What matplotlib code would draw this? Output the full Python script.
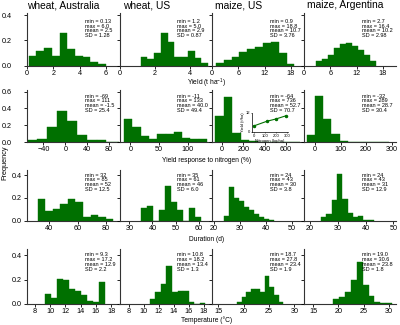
import matplotlib.pyplot as plt
import numpy as np

plt.rcParams['font.family'] = ['Liberation Sans', 'DejaVu Sans']
plt.rcParams['mathtext.fontset'] = 'custom'
plt.rcParams['mathtext.rm'] = 'Liberation Sans'
plt.rcParams['mathtext.it'] = 'Liberation Sans:italic'

titles = ['wheat, Australia', 'wheat, US', 'maize, US', 'maize, Argentina']
row_labels = [r'Yield (t ha$^{-1}$)', 'Yield response to nitrogen (%)',
              'Duration (d)', 'Temperature (\u00b0C)']

# min, max, mean, SD shown in each panel
yield_stats = [('0.13', '6.0', '2.5', '1.28'), ('1.2', '5.0', '2.9', '0.87'),
               ('0.9', '18.8', '10.7', '3.76'), ('2.7', '16.4', '10.2', '2.98')]
nresp_stats = [('-69', '111', '-1.5', '25.4'), ('-11', '133', '40.0', '49.4'),
               ('-64', '736', '52.7', '70.7'), ('-32', '289', '28.7', '30.4')]
duration_stats = [('32', '85', '52', '12.5'), ('35', '61', '46', '6.0'),
                  ('24', '43', '30', '3.8'), ('24', '43', '31', '12.9')]
temp_stats = [('9.3', '17.2', '12.9', '2.2'), ('10.8', '18.2', '13.4', '1.3'),
              ('18.7', '27.8', '23.4', '1.9'), ('19.0', '30.6', '23.8', '1.8')]

# relative frequency of the 10 bins between min and max
yield_freq = [
    [0.079, 0.116, 0.142, 0.079, 0.255, 0.134, 0.076, 0.071, 0.032, 0.010],
    [0.066, 0.053, 0.097, 0.255, 0.187, 0.066, 0.071, 0.116, 0.058, 0.024],
    [0.018, 0.045, 0.071, 0.105, 0.130, 0.150, 0.176, 0.190, 0.097, 0.013],
    [0.037, 0.053, 0.084, 0.142, 0.168, 0.182, 0.158, 0.124, 0.084, 0.037],
]
nresp_freq = [
    [0.020, 0.040, 0.180, 0.370, 0.250, 0.085, 0.020, 0.020, 0.005, 0.005],
    [0.270, 0.175, 0.070, 0.040, 0.100, 0.090, 0.120, 0.045, 0.035, 0.030],
    [0.310, 0.540, 0.110, 0.025, 0.008, 0.003, 0.000, 0.000, 0.000, 0.002],
    [0.083, 0.550, 0.270, 0.100, 0.008, 0.002, 0.000, 0.000, 0.000, 0.002],
]
duration_freq = [
    [0.188, 0.085, 0.106, 0.147, 0.188, 0.168, 0.030, 0.047, 0.030, 0.012],
    [0.109, 0.130, 0.000, 0.094, 0.306, 0.168, 0.094, 0.000, 0.109, 0.035],
    [0.040, 0.300, 0.200, 0.176, 0.120, 0.094, 0.060, 0.030, 0.012, 0.006],
    [0.030, 0.056, 0.180, 0.410, 0.188, 0.070, 0.030, 0.044, 0.006, 0.006],
]
temp_freq = [
    [0.080, 0.052, 0.203, 0.195, 0.123, 0.107, 0.074, 0.027, 0.014, 0.180],
    [0.040, 0.095, 0.165, 0.310, 0.095, 0.110, 0.110, 0.020, 0.000, 0.005],
    [0.020, 0.060, 0.095, 0.120, 0.120, 0.095, 0.230, 0.140, 0.075, 0.020],
    [0.038, 0.055, 0.100, 0.200, 0.340, 0.156, 0.066, 0.020, 0.010, 0.005],
]

# inset: yield vs nitrogen rate (maize, US)
inset_n = [0, 120, 200, 290]
inset_yield = [3.8, 6.8, 8.2, 10.2]

stats = [yield_stats, nresp_stats, duration_stats, temp_stats]
freqs = [yield_freq, nresp_freq, duration_freq, temp_freq]

xlims = [
    [(0, 7), (0, 5.2), (0, 21), (0, 21)],
    [(-70, 98), (-19, 141), (-95, 770), (-43, 317)],
    [(24.6, 89), (25.7, 65.6), (19.3, 54.6), (17.8, 51)],
    [(7, 19), (6.8, 19), (13.8, 31.9), (13.2, 31.4)],
]
xticks = [
    [[0, 2, 4, 6], [0, 2, 4], [0, 6, 12, 18], [0, 6, 12, 18]],
    [[-40, 0, 40, 80], [0, 50, 100], [0, 200, 400, 600], [0, 100, 200, 300]],
    [[40, 60, 80], [30, 40, 50, 60], [20, 30, 40, 50], [20, 30, 40, 50]],
    [[8, 10, 12, 14, 16, 18], [8, 10, 12, 14, 16, 18], [15, 20, 25, 30], [15, 20, 25, 30]],
]
ylims = [0.42, 0.62, 0.45, 0.45]
yticks = [[0, 0.2, 0.4], [0, 0.2, 0.4, 0.6], [0, 0.2, 0.4], [0, 0.2, 0.4]]

green = '#007000'
W, H = 400, 325
fig = plt.figure(figsize=(4, 3.25), dpi=100)

col_left = [27, 119.5, 212, 304]
col_w = 92
rows_px = [(12.5, 65.7), (90, 142), (169.6, 220.7), (249, 304)]
ypad = [12, 12, 2, 2]
text_y = [0.88, 0.93, 0.94, 0.94]
xlabel_y = [83.5, 160.5, 239.5, 320.5]

for r in range(4):
    top, bot = rows_px[r]
    for c in range(4):
        ax = fig.add_axes([col_left[c] / W, 1 - bot / H, col_w / W, (bot - top) / H])
        vmin = float(stats[r][c][0])
        vmax = float(stats[r][c][1])
        edges = np.linspace(vmin, vmax, 11)
        ax.bar(edges[:-1], freqs[r][c], width=np.diff(edges), align='edge',
               color=green, edgecolor=green, linewidth=0.3)
        ax.set_xlim(*xlims[r][c])
        ax.set_ylim(0, ylims[r])
        ax.set_xticks(xticks[r][c])
        ax.set_yticks(yticks[r])
        ax.spines['top'].set_visible(False)
        ax.spines['right'].set_visible(False)
        for s in ['left', 'bottom']:
            ax.spines[s].set_linewidth(0.8)
            ax.spines[s].set_color('#333333')
        ax.tick_params(axis='both', labelsize=5.2, length=2, width=0.6, pad=1.2,
                       direction='out')
        if c == 0:
            ax.set_yticklabels(['%.1f' % v for v in yticks[r]])
            ax.tick_params(axis='y', pad=ypad[r] * 0.72)
        else:
            ax.set_yticklabels([])
        st = stats[r][c]
        ax.text(0.63, text_y[r],
                'min = %s\nmax = %s\nmean = %s\nSD = %s' % st,
                transform=ax.transAxes, ha='left', va='top', fontsize=4,
                linespacing=0.95)
        if r == 0:
            off = [0, 4, 3, 3][c]
            fig.text((col_left[c] + off) / W, 1 - 5.5 / H, titles[c],
                     ha='left', va='center', fontsize=7.4)
    fig.text(207 / W, 1 - xlabel_y[r] / H, row_labels[r], ha='center',
             va='center', fontsize=4.8)

fig.text(5 / W, 1 - 163 / H, 'Frequency', rotation=90, ha='center',
         va='center', fontsize=5.3)

# inset in maize, US yield response panel
axi = fig.add_axes([252 / W, 1 - 132 / H, 36 / W, 19 / H])
axi.plot(inset_n, inset_yield, color=green, marker='o', markersize=1.5,
         linewidth=0.8)
axi.set_xlim(-15, 310)
axi.set_ylim(0, 12)
axi.set_xticks([0, 100, 200, 300])
axi.set_yticks([0, 12])
axi.spines['top'].set_visible(False)
axi.spines['right'].set_visible(False)
for s in ['left', 'bottom']:
    axi.spines[s].set_linewidth(0.5)
axi.tick_params(labelsize=3, length=1, width=0.4, pad=0.5)
axi.set_xlabel('Nitrogen (kg/ha)', fontsize=3, labelpad=0.5)
axi.set_ylabel('Yield (t/ha)', fontsize=3, labelpad=0.5)
axi.patch.set_alpha(0)

fig.savefig('out.png', dpi=100)
